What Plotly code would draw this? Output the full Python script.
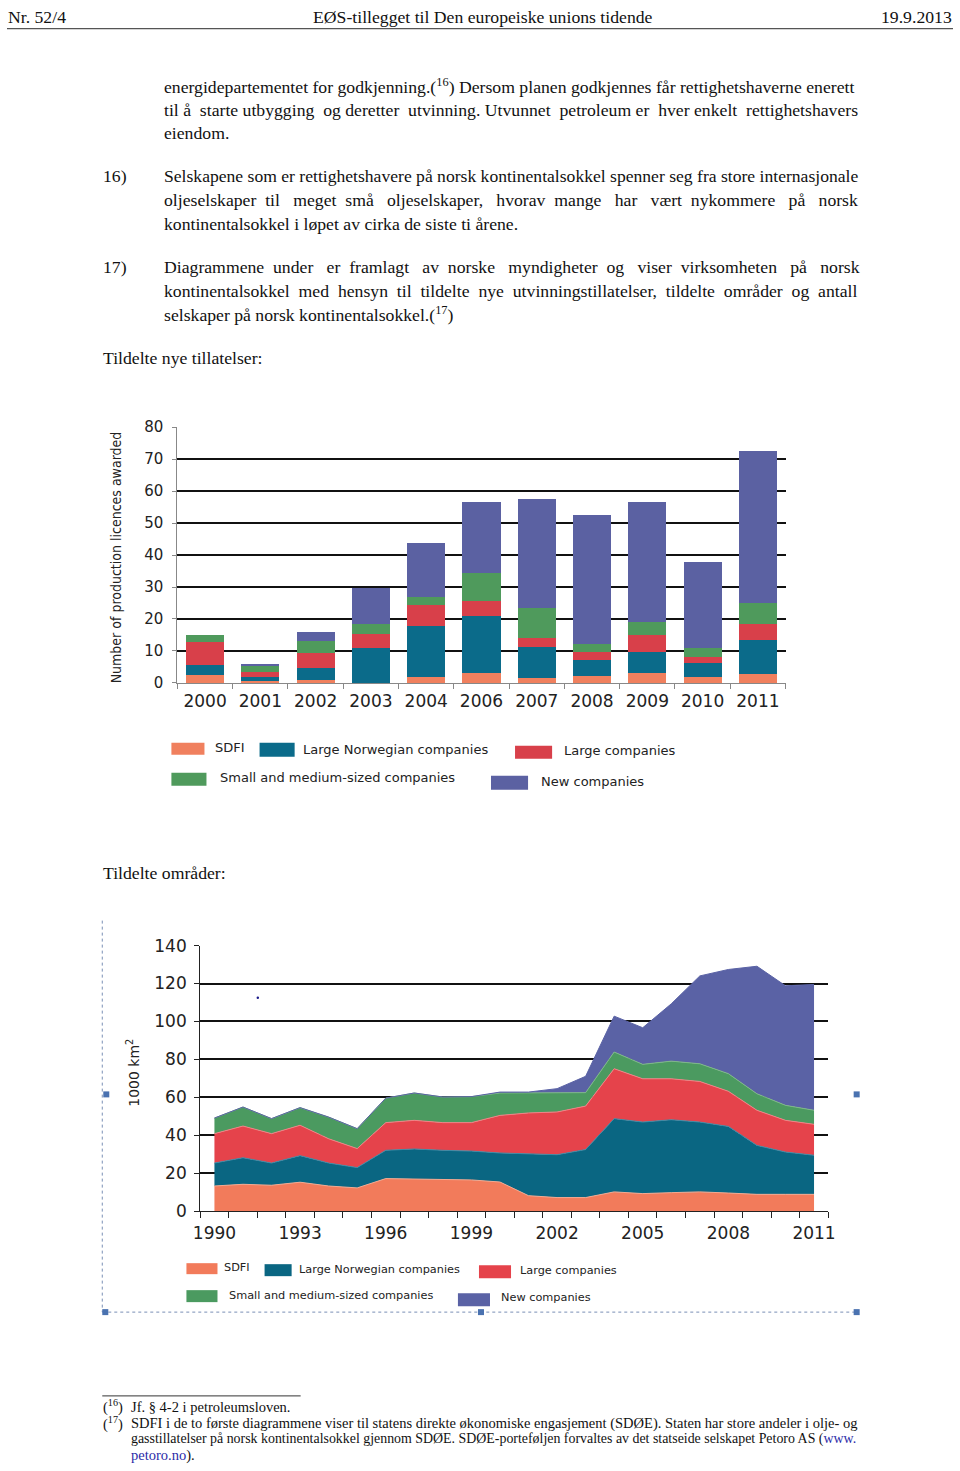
import plotly.graph_objects as go

W, H = 960, 1471

# ---------------- Data: chart 1 (production licences awarded) ----------------
bar_years = ["2000", "2001", "2002", "2003", "2004", "2006", "2007", "2008", "2009", "2010", "2011"]
bar_sdfi = [2.5, 0.5, 0.9, 0.0, 1.8, 3.1, 1.5, 2.1, 3.0, 1.9, 2.8]
bar_large_nor = [3.2, 1.3, 3.8, 11.0, 15.9, 17.7, 9.6, 5.1, 6.6, 4.4, 10.5]
bar_large = [7.2, 1.7, 4.7, 4.2, 6.6, 4.9, 2.9, 2.4, 5.5, 1.9, 5.0]
bar_small = [2.2, 1.8, 3.8, 3.2, 2.7, 8.6, 9.4, 2.6, 4.0, 2.7, 6.6]
bar_new = [0.0, 0.6, 2.7, 11.4, 16.9, 22.4, 34.0, 40.4, 37.4, 26.8, 47.6]
bar_yticks = [0, 10, 20, 30, 40, 50, 60, 70, 80]

# ---------------- Data: chart 2 (awarded areas, 1000 km2) ----------------
area_years = list(range(1990, 2012))
area_sdfi = [13.3, 14.2, 13.7, 15.3, 13.3, 12.3, 17.2, 17.0, 16.7, 16.5, 15.4,
             8.2, 7.2, 7.2, 10.2, 9.3, 9.8, 10.2, 9.6, 8.9, 8.9, 8.9]
area_large_nor = [12.1, 14.0, 11.7, 14.0, 12.1, 10.7, 14.9, 15.8, 15.4, 15.2, 15.3,
                  22.2, 22.6, 25.3, 38.6, 37.7, 38.4, 36.8, 35.1, 25.8, 22.3, 20.6]
area_large = [15.5, 16.7, 15.5, 16.0, 12.8, 10.0, 14.6, 15.1, 14.6, 15.0, 19.8,
              21.4, 22.5, 22.9, 26.3, 22.8, 21.6, 21.4, 18.5, 18.5, 16.7, 16.3]
area_small = [8.2, 10.0, 7.9, 9.3, 11.4, 10.5, 12.9, 14.4, 13.5, 13.7, 11.8,
              10.5, 10.0, 7.1, 8.8, 7.6, 9.3, 9.3, 9.3, 8.7, 7.9, 7.4]
area_new = [0, 0, 0, 0, 0, 0, 0, 0, 0, 0, 0.5,
            0.5, 2.3, 8.6, 18.9, 19.3, 30.2, 46.3, 54.9, 67.2, 63.0, 66.3]
area_xticks = [1990, 1993, 1996, 1999, 2002, 2005, 2008, 2011]
area_yticks = [0, 20, 40, 60, 80, 100, 120, 140]

series_names = ["SDFI", "Large Norwegian companies", "Large companies",
                "Small and medium-sized companies", "New companies"]
bar_colors = ["#F0805E", "#0B6B8A", "#D8404A", "#4F9A5C", "#5B61A2"]
area_colors = ["#F27B5B", "#0A6682", "#E5434B", "#4B9A60", "#5A62A5"]
area_edge = ["#F6A88E", "#3F8AA5", "#F28085", "#7DB886", "#5A62A5"]

SERIF = "Liberation Serif, Times New Roman, serif"
SANS = "DejaVu Sans, Verdana, sans-serif"
NARROW = "Liberation Sans Narrow, DejaVu Sans Condensed, Liberation Sans, sans-serif"
BODY = 17.7

# The photographed page is slightly rescaled/offset relative to the figure;
# map target picture pixels to figure pixels (measured: pic = s * fig + offset).
SX, OX = 0.9836, 7.9
SY, OY = 0.9876, 8.3


def X(px):
    return (px - OX) / SX / W


def Y(py):
    return 1 - (py - OY) / SY / H


def Xf(fx):  # figure pixels directly
    return fx / W


def Yf(fy):
    return 1 - fy / H


def justify(s, extra):
    """Widen the word gaps of a justified line by `extra` additional spaces."""
    words = s.split(" ")
    gaps = len(words) - 1
    out = words[0]
    for i, w in enumerate(words[1:]):
        n = 1 + (extra * (i + 1)) // gaps - (extra * i) // gaps
        out += " " * n + w
    return out


fig = go.Figure()

bar_series = [bar_sdfi, bar_large_nor, bar_large, bar_small, bar_new]
for name, vals, col in zip(series_names, bar_series, bar_colors):
    fig.add_trace(go.Bar(x=bar_years, y=vals, name=name, marker=dict(color=col, line=dict(width=0)),
                         xaxis="x", yaxis="y"))

area_series = [area_sdfi, area_large_nor, area_large, area_small, area_new]
for name, vals, col, edge in zip(series_names, area_series, area_colors, area_edge):
    fig.add_trace(go.Scatter(x=area_years, y=vals, name=name, stackgroup="one", mode="lines",
                             line=dict(width=1, color=edge), fillcolor=col,
                             xaxis="x2", yaxis="y2"))

ann = []


def place(x, y, s, size=BODY, anchor="left", font=SERIF, color="#111", angle=0):
    ann.append(dict(x=x, y=y, xref="paper", yref="paper", text=s, showarrow=False,
                    xanchor=anchor, yanchor="middle", textangle=angle, borderpad=0,
                    font=dict(family=font, size=size, color=color)))


def text(x, y, s, size=BODY, anchor="left", font=SERIF, color="#111", angle=0):
    place(X(x), Y(y), s, size, anchor, font, color, angle)


# header (kept inside the figure area)
place(Xf(0), Yf(7.5), "Nr. 52/4")
place(X(483), Yf(7.5), "EØS-tillegget til Den europeiske unions tidende", anchor="center")
place(Xf(960), Yf(7.5), "19.9.2013", anchor="right")

# body text (justified lines get wider word gaps)
text(164, 84, "energidepartementet for godkjenning.(<sup>16</sup>) Dersom planen godkjennes får rettighetshaverne enerett")
text(164, 108, justify("til å starte utbygging og deretter utvinning. Utvunnet petroleum er hver enkelt rettighetshavers", 6))
text(164, 131, "eiendom.")
text(103, 175, "16)")
text(164, 175, "Selskapene som er rettighetshavere på norsk kontinentalsokkel spenner seg fra store internasjonale",
     BODY - 0.1)
text(164, 199, justify("oljeselskaper til meget små oljeselskaper, hvorav mange har vært nykommere på norsk", 18))
text(164, 223, "kontinentalsokkel i løpet av cirka de siste ti årene.")
text(103, 266, "17)")
text(164, 266, justify("Diagrammene under er framlagt av norske myndigheter og viser virksomheten på norsk", 17))
text(164, 290, justify("kontinentalsokkel med hensyn til tildelte nye utvinningstillatelser, tildelte områder og antall", 10))
text(164, 313, "selskaper på norsk kontinentalsokkel.(<sup>17</sup>)")
text(103, 357, "Tildelte nye tillatelser:")
text(103, 872, "Tildelte områder:")

# chart axis titles
text(117, 556, "Number of production licences awarded", 14, anchor="center", font=NARROW,
     color="#222", angle=-90)
text(134, 1072, "1000 km<sup>2</sup>", 14, anchor="center", font=SANS, color="#222", angle=-90)

shapes = []


def rect(x0, y0, x1, y1, col):
    shapes.append(dict(type="rect", xref="paper", yref="paper", x0=X(x0), x1=X(x1),
                       y0=Y(y1), y1=Y(y0), fillcolor=col, line=dict(width=0), layer="above"))


def line(x0, y0, x1, y1, col="#444", w=1, dash="solid"):
    shapes.append(dict(type="line", xref="paper", yref="paper", x0=x0, x1=x1,
                       y0=y0, y1=y1, line=dict(color=col, width=w, dash=dash)))


# legend chart 1
leg1 = [(172, 742, 205, 754, 215, 747), (260, 742, 295, 756, 302, 749),
        (515, 745, 552, 758, 563, 750), (172, 772, 207, 785, 220, 777),
        (491, 775, 528, 789, 540, 781)]
for (x0, y0, x1, y1, tx, ty), name, col in zip(leg1, series_names, bar_colors):
    rect(x0, y0, x1, y1, col)
    text(tx, ty, name, 13, font=SANS, color="#222")

# legend chart 2
leg2 = [(187, 1263, 218, 1274, 224, 1267), (265, 1264, 292, 1276, 298, 1269),
        (479, 1265, 511, 1278, 519, 1270), (187, 1290, 218, 1302, 228, 1295),
        (458, 1293, 490, 1306, 500, 1297)]
for (x0, y0, x1, y1, tx, ty), name, col in zip(leg2, series_names, area_colors):
    rect(x0, y0, x1, y1, col)
    text(tx, ty, name, 11.3, font=SANS, color="#222")

# header rule (full width of the figure), footnote rule
line(0, Y(27), 1, Y(27), "#555", 1.2)
line(X(103), Yf(1405), X(301), Yf(1405), "#333", 1)

# dotted frame around chart 2 with handles
line(X(103), Y(920), X(103), Y(1312), "#7a8fb5", 1, "dot")
line(X(103), Y(1312), X(858), Y(1312), "#7a8fb5", 1, "dot")
for hx, hy in [(107, 1094), (856, 1094), (106, 1312), (481, 1312), (856, 1312)]:
    rect(hx - 3, hy - 3, hx + 3, hy + 3, "#4A72B0")
shapes.append(dict(type="circle", xref="paper", yref="paper", x0=X(257), x1=X(259.5),
                   y0=Y(998.5), y1=Y(996), fillcolor="#1a1a8a", line=dict(width=0)))

# footnotes (bottom line kept inside the figure area)
FN = 14.5
fn_y = [1416, 1432.5, 1449, 1465]
place(X(103), Yf(fn_y[0]), "(<sup>16</sup>)", FN)
place(X(131), Yf(fn_y[0]), "Jf. § 4-2 i petroleumsloven.", FN)
place(X(103), Yf(fn_y[1]), "(<sup>17</sup>)", FN)
place(X(131), Yf(fn_y[1]), "SDFI i de to første diagrammene viser til statens direkte økonomiske engasjement (SDØE). "
                           "Staten har store andeler i olje- og", FN)
place(X(131), Yf(fn_y[2]), "gasstillatelser på norsk kontinentalsokkel gjennom SDØE. SDØE-porteføljen forvaltes av det "
                           "statseide selskapet Petoro AS (<span style='color:#2B2BA8'>www.</span>", 13.9)
place(X(131), Yf(fn_y[3]), "<span style='color:#2B2BA8'>petoro.no</span>).", FN)

fig.update_layout(
    width=W, height=H, margin=dict(l=0, r=0, t=0, b=0, pad=0),
    paper_bgcolor="white", plot_bgcolor="white", showlegend=False,
    barmode="stack", bargap=0.31,
    annotations=ann, shapes=shapes,
    xaxis=dict(domain=[X(178), X(785)], anchor="y", type="category",
               showline=True, linecolor="#888", linewidth=1,
               ticks="outside", tickson="boundaries", ticklen=5, tickcolor="#888",
               showgrid=False, tickfont=dict(family=SANS, size=17, color="#222"),
               ticklabelstandoff=3, fixedrange=True),
    yaxis=dict(domain=[Y(682), Y(426)], anchor="x", range=[0, 80],
               tickvals=bar_yticks, showline=True, linecolor="#888", linewidth=1,
               ticks="outside", ticklen=4, tickcolor="#888",
               showgrid=True, gridcolor="#111", gridwidth=2, zeroline=False,
               tickfont=dict(family=SANS, size=15, color="#222"),
               ticklabelstandoff=6, fixedrange=True),
    xaxis2=dict(domain=[X(200.7), X(827.7)], anchor="y2", range=[1989.5, 2011.5],
                tickvals=area_xticks, ticks="", showline=True, linecolor="#222", linewidth=1,
                showgrid=False, zeroline=False,
                minor=dict(tickvals=[y - 0.5 for y in area_years] + [2011.5], ticks="outside",
                           ticklen=6, tickcolor="#222", showgrid=False),
                tickfont=dict(family=SANS, size=17, color="#222"),
                ticklabelstandoff=6, fixedrange=True),
    yaxis2=dict(domain=[Y(1211), Y(945)], anchor="x2", range=[0, 140],
                tickvals=area_yticks, showline=True, linecolor="#222", linewidth=1,
                ticks="outside", ticklen=5, tickcolor="#222",
                showgrid=True, gridcolor="#111", gridwidth=2, zeroline=False,
                tickfont=dict(family=SANS, size=17, color="#222"),
                ticklabelstandoff=4, fixedrange=True),
)

fig.write_html("out.html", config={"displayModeBar": False},
               post_script="document.body.style.margin='0';document.body.style.overflow='hidden';")
